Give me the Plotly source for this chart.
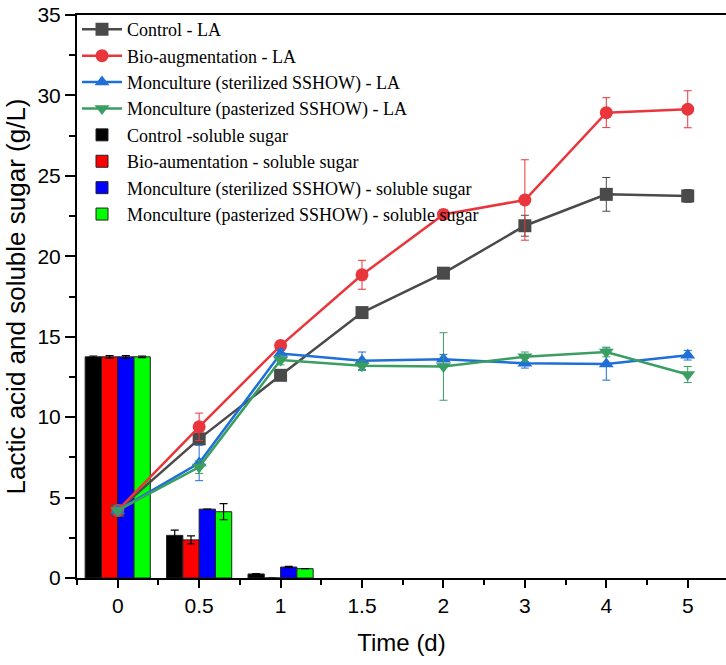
import numpy as np
import plotly.graph_objects as go

time_labels = ["0", "0.5", "1", "1.5", "2", "3", "4", "5"]

# Lactic acid (g/L)
la_control = [4.2, 8.65, 12.6, 16.5, 18.95, 21.9, 23.85, 23.75]
la_control_err = [0.15, 0.3, 0.3, 0.25, 0.3, 0.65, 1.05, 0.4]
la_bio = [4.2, 9.4, 14.45, 18.85, 22.6, 23.5, 28.93, 29.14]
la_bio_err = [0.15, 0.85, 0.3, 0.9, 0.3, 2.5, 0.93, 1.15]
la_ster = [4.2, 7.15, 13.95, 13.5, 13.6, 13.35, 13.3, 13.85]
la_ster_err = [0.15, 1.1, 0.3, 0.55, 0.3, 0.3, 1.0, 0.3]
la_past = [4.2, 6.9, 13.55, 13.2, 13.15, 13.75, 14.05, 12.65]
la_past_err = [0.15, 0.4, 0.3, 0.3, 2.1, 0.3, 0.3, 0.5]

# Soluble sugar (g/L), only at first three time points
sugar_labels = ["0", "0.5", "1"]
ss_control = [13.75, 2.65, 0.25]
ss_control_err = [0.05, 0.33, 0.03]
ss_bio = [13.75, 2.37, 0.0]
ss_bio_err = [0.08, 0.25, 0.0]
ss_ster = [13.75, 4.28, 0.68]
ss_ster_err = [0.08, 0.0, 0.04]
ss_past = [13.75, 4.12, 0.58]
ss_past_err = [0.05, 0.5, 0.0]

x_all = np.arange(len(time_labels))
x_sugar = np.array([time_labels.index(s) for s in sugar_labels])

fig = go.Figure()

serif = "Liberation Serif, Times New Roman, serif"
sans = "Liberation Sans, Arial, sans-serif"

bars = [
    ("Control -soluble sugar", ss_control, ss_control_err, "#000000"),
    ("Bio-aumentation - soluble sugar", ss_bio, ss_bio_err, "#ff0000"),
    ("Monculture (sterilized SSHOW) - soluble sugar", ss_ster, ss_ster_err, "#0000ff"),
    ("Monculture (pasterized SSHOW) - soluble sugar", ss_past, ss_past_err, "#00ff00"),
]
for i, (name, vals, err, col) in enumerate(bars):
    fig.add_trace(go.Bar(
        x=x_sugar, y=vals, name=name, legendrank=10 + i,
        marker=dict(color=col, line=dict(color="#222222", width=1)),
        error_y=dict(type="data", array=err, color="#000000", thickness=1.2, width=4),
    ))

lines = [
    ("Control - LA", la_control, la_control_err, "#4a4a4a", "square"),
    ("Bio-augmentation - LA", la_bio, la_bio_err, "#e8363c", "circle"),
    ("Monculture (sterilized SSHOW) - LA", la_ster, la_ster_err, "#1f6fd8", "triangle-up"),
    ("Monculture (pasterized SSHOW) - LA", la_past, la_past_err, "#3a9e62", "triangle-down"),
]
for i, (name, vals, err, col, sym) in enumerate(lines):
    fig.add_trace(go.Scatter(
        x=x_all, y=vals, name=name, mode="lines+markers", legendrank=i + 1,
        line=dict(color=col, width=2.5),
        marker=dict(symbol=sym, size=13, color=col),
        error_y=dict(type="data", array=err, color=col, thickness=1, width=4),
    ))

fig.update_layout(
    width=726, height=665,
    margin=dict(l=77, r=0, t=15, b=87),
    paper_bgcolor="white", plot_bgcolor="white",
    barmode="group", bargap=0.2, bargroupgap=0,
    showlegend=True,
    legend=dict(
        x=0.0, y=1.007, xanchor="left", yanchor="top",
        bgcolor="rgba(0,0,0,0)", borderwidth=0,
        font=dict(family=serif, size=18, color="#000000"),
        itemwidth=40, tracegroupgap=0,
    ),
    xaxis=dict(
        range=[-0.5, 7.47],
        tickmode="array", tickvals=x_all, ticktext=time_labels,
        showline=True, linecolor="#000000", linewidth=2, mirror=True,
        ticks="outside", ticklen=8, tickwidth=1.5, tickcolor="#000000",
        minor=dict(ticks="outside", ticklen=5, tickwidth=1.5, tickcolor="#000000",
                   tickmode="array", tickvals=list(np.arange(-0.5, 8, 1.0))),
        showgrid=False, zeroline=False,
        tickfont=dict(family=sans, size=21, color="#000000"),
        title=dict(text="Time (d)", font=dict(family=sans, size=24, color="#000000"), standoff=18),
    ),
    yaxis=dict(
        range=[0, 35], dtick=5,
        showline=True, linecolor="#000000", linewidth=2, mirror=False,
        ticks="outside", ticklen=10, tickwidth=1.5, tickcolor="#000000",
        minor=dict(ticks="outside", ticklen=6, tickwidth=1.5, tickcolor="#000000", dtick=2.5),
        showgrid=False, zeroline=False,
        tickfont=dict(family=sans, size=21, color="#000000"),
        title=dict(text="Lactic acid and soluble sugar (g/L)",
                   font=dict(family=sans, size=26, color="#000000"), standoff=4),
    ),
)

fig.write_html("out.html")
